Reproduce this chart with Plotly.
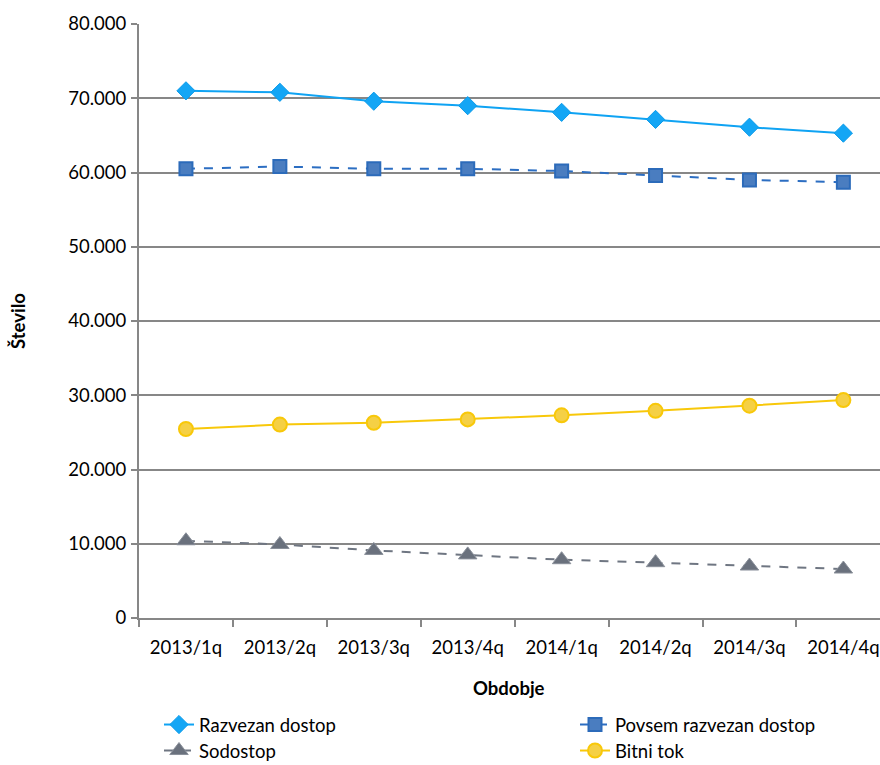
import plotly.graph_objects as go

# Podatki
obdobja = ['2013/1q', '2013/2q', '2013/3q', '2013/4q', '2014/1q', '2014/2q', '2014/3q', '2014/4q']
razvezan_dostop = [71000, 70800, 69600, 69000, 68100, 67150, 66100, 65300]
povsem_razvezan_dostop = [60500, 60800, 60500, 60500, 60200, 59600, 59000, 58700]
sodostop = [10400, 9900, 9100, 8500, 7850, 7450, 7000, 6600]
bitni_tok = [25450, 26050, 26300, 26750, 27300, 27900, 28600, 29350]

pisava = 'Lato'
vel = 18.5
siva = '#878787'

fig = go.Figure()
fig.add_trace(go.Scatter(x=obdobja, y=razvezan_dostop, mode='lines+markers', name='Razvezan dostop',
                         line=dict(color='#0FA3F3', width=2),
                         marker=dict(symbol='diamond', size=14, color='#14A6F5', line=dict(width=1, color='#0B9BEA')),
                         legend='legend'))
fig.add_trace(go.Scatter(x=obdobja, y=povsem_razvezan_dostop, mode='lines+markers', name='Povsem razvezan dostop',
                         line=dict(color='#2C6EC2', width=2, dash='dash'),
                         marker=dict(symbol='square', size=13, color='#4A7DC0', line=dict(width=2, color='#2C6BBA')),
                         legend='legend2'))
fig.add_trace(go.Scatter(x=obdobja, y=sodostop, mode='lines+markers', name='Sodostop',
                         line=dict(color='#6F7682', width=2, dash='dash'),
                         marker=dict(symbol='triangle-up', size=16, color='#6A717D', line=dict(width=1, color='#8A909A')),
                         legend='legend3'))
fig.add_trace(go.Scatter(x=obdobja, y=bitni_tok, mode='lines+markers', name='Bitni tok',
                         line=dict(color='#F8C80A', width=2),
                         marker=dict(symbol='circle', size=14, color='#F5D045', line=dict(width=2, color='#F8C80A')),
                         legend='legend4'))

fig.update_xaxes(range=[-0.5, 7.39], tickson='boundaries', ticks='outside', ticklen=7, tickwidth=2,
                 tickcolor=siva, showline=True, linecolor=siva, linewidth=2, showgrid=False,
                 tickfont=dict(family=pisava, size=vel, color='black'), ticklabelstandoff=12, automargin=False)
fig.update_yaxes(range=[0, 80000], dtick=10000, tickformat=',d', ticks='outside', ticklen=6, tickwidth=2,
                 tickcolor=siva, showline=True, linecolor=siva, linewidth=2, showgrid=True,
                 gridcolor=siva, gridwidth=2, zeroline=False, automargin=False,
                 tickfont=dict(family=pisava, size=vel, color='black'), ticklabelstandoff=1)

leg = dict(orientation='h', xref='container', yref='container', yanchor='middle', bgcolor='rgba(0,0,0,0)',
           font=dict(family=pisava, size=vel, color='black'), itemwidth=30)
fig.update_layout(
    width=880, height=765,
    margin=dict(l=139, r=0, t=24, b=147, autoexpand=False),
    plot_bgcolor='white', paper_bgcolor='white',
    separators=',.',
    showlegend=True,
    legend=dict(leg, x=159 / 880, y=1 - 725 / 765),
    legend2=dict(leg, x=575 / 880, y=1 - 725 / 765),
    legend3=dict(leg, x=159 / 880, y=1 - 751 / 765),
    legend4=dict(leg, x=575 / 880, y=1 - 751 / 765),
    annotations=[
        dict(text='<b>Število</b>', xref='paper', yref='paper', x=(18 - 139) / 741, y=0.5,
             xanchor='center', yanchor='middle', textangle=-90, showarrow=False,
             font=dict(family=pisava, size=vel, color='black')),
        dict(text='<b>Obdobje</b>', xref='paper', yref='paper', x=(509 - 139) / 741, y=-(688 - 617.6) / 594,
             xanchor='center', yanchor='middle', showarrow=False,
             font=dict(family=pisava, size=vel, color='black')),
    ],
)

fig.write_html('out.html', config={'displayModeBar': False},
               post_script="document.body.style.margin='0';")
